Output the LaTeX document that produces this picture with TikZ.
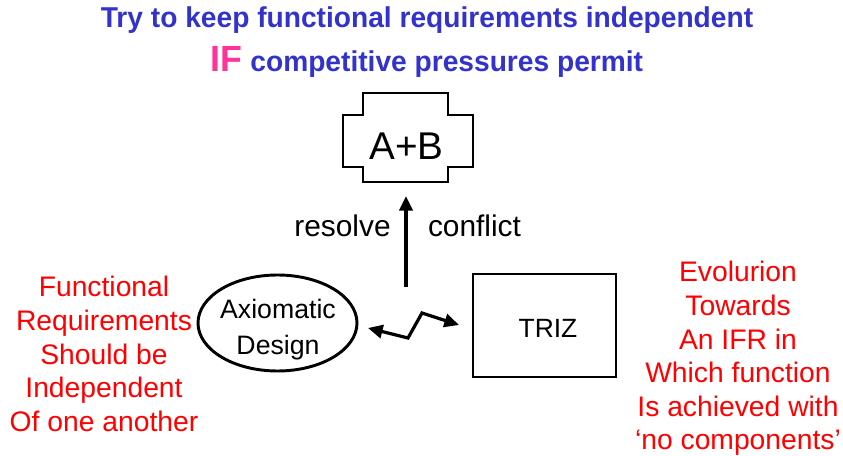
\documentclass[tikz,border=0pt]{standalone}
\usepackage{fontspec}
\setmainfont{Liberation Sans}
\usetikzlibrary{arrows.meta}
\definecolor{titleblue}{RGB}{51,51,204}
\definecolor{ifpink}{RGB}{255,51,153}
\definecolor{notered}{RGB}{255,0,0}
\tikzset{
  shapeline/.style={draw=black,line width=2.2pt},
  tip/.style={-{Triangle[length=11pt,width=10pt]}},
  conn/.style={line width=2.4pt,tip},
  note/.style={text=notered,align=center,font=\fontsize{21.2}{25.3}\selectfont,inner sep=0pt},
  lbl/.style={font=\fontsize{22.4}{26}\selectfont,inner sep=0pt,anchor=base},
  ttl/.style={anchor=base,inner sep=0pt,text=titleblue,font=\bfseries\fontsize{20.5}{22}\selectfont},
}
\begin{document}
\begin{tikzpicture}[x=0.75pt,y=-0.75pt]
\useasboundingbox (0,0) rectangle (843,456);
% titles
\node[ttl] (t1) at (427,28) {\scalebox{1.03}[1.05]{Try to keep functional requirements independent}};
\node[ttl] (t2) at (427,72) {\scalebox{1.03}[1.05]{{\color{ifpink}\fontsize{26}{28}\selectfont IF} competitive pressures permit}};
% A+B cross shape
\draw[shapeline] (363,93) -- (448,93) -- (448,115) -- (473,115) -- (473,167) -- (448,167) -- (448,182) -- (363,182) -- (363,167) -- (343,167) -- (343,115) -- (363,115) -- cycle;
\node[font=\fontsize{29}{32}\selectfont,inner sep=0pt] (ab) at (406.5,146) {A+B};
\coordinate (abbot) at (406,196);
% ellipse
\draw[shapeline] (277.5,323) ellipse [x radius=79.5, y radius=48];
\node[font=\fontsize{20}{27}\selectfont,align=center,inner sep=0pt] (ad) at (278,330) {Axiomatic\\Design};
% TRIZ box
\draw[shapeline] (473,274) rectangle (616,377);
\node[font=\fontsize{19.8}{22}\selectfont,inner sep=0pt] (triz) at (548,328) {TRIZ};
% vertical arrow
\coordinate (vstart) at (406,287);
\draw[conn] (vstart) -- (abbot);
\node[lbl] (res) at (342.5,237) {resolve};
\node[lbl] (con) at (474.5,237) {conflict};
% zigzag double arrow
\coordinate (zl) at (368,328);
\coordinate (zr) at (459,325);
\draw[line width=2.4pt,{Triangle[length=11pt,width=10pt]}-{Triangle[length=11pt,width=10pt]}] (zl) -- (408,338) -- (422,313) -- (zr);
% red notes
\node[note] (left) at (104,354) {Functional\\Requirements\\Should be\\Independent\\Of one another};
\node[note,font=\fontsize{21.2}{25.2}\selectfont] (right) at (738,358.5) {Evolurion\\Towards\\An IFR in\\Which function\\Is achieved with\\‘no components’};
\end{tikzpicture}
\end{document}
